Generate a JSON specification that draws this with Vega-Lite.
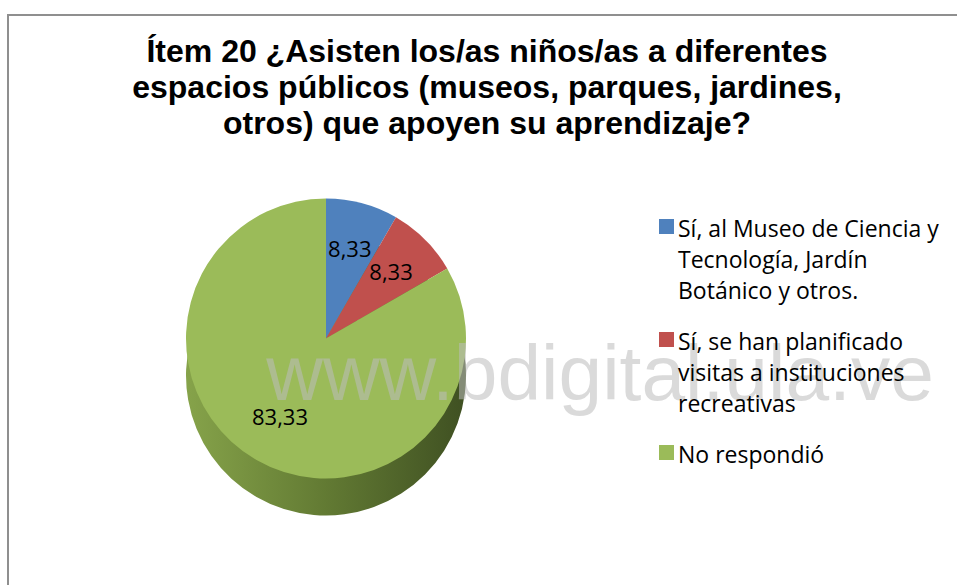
{
  "$schema": "https://vega.github.io/schema/vega-lite/v6.json",
  "width": 980,
  "height": 575,
  "autosize": {"type": "none"},
  "padding": {"left": 8, "top": 15, "right": 0, "bottom": 0},
  "background": "white",
  "config": {
    "view": {"stroke": null},
    "locale": {"number": {"decimal": ",", "thousands": ".", "grouping": [3], "currency": ["", ""]}}
  },
  "title": {
    "text": ["Ítem 20 ¿Asisten los/as niños/as a diferentes", "espacios públicos (museos, parques, jardines,", "otros) que apoyen su aprendizaje?"],
    "font": "Liberation Sans",
    "fontSize": 32,
    "fontWeight": "bold",
    "color": "#000000",
    "anchor": "middle",
    "frame": "group",
    "orient": "top",
    "lineHeight": 36,
    "offset": -127,
    "dx": -11
  },
  "data": {
    "values": [
      {"categoria": "Sí, al Museo de Ciencia y Tecnología, Jardín Botánico y otros.", "valor": 8.33, "orden": 1},
      {"categoria": "Sí, se han planificado visitas a instituciones recreativas", "valor": 8.33, "orden": 2},
      {"categoria": "No respondió", "valor": 83.33, "orden": 3}
    ]
  },
  "layer": [
    {
      "data": {"values": [{"marco": "borde"}]},
      "mark": {"type": "rect", "fill": null, "stroke": "#8f8f8f", "strokeWidth": 2},
      "encoding": {}
    },
    {
      "mark": {
        "type": "arc",
        "radius": 140,
        "xOffset": -172,
        "yOffset": 73,
        "fill": {"gradient": "linear", "x1": 0, "x2": 1, "y1": 0, "y2": 0, "stops": [{"offset": 0, "color": "#86a34a"}, {"offset": 0.5, "color": "#627a33"}, {"offset": 1, "color": "#3f5022"}]}
      },
      "encoding": {
        "theta": {"field": "valor", "type": "quantitative", "stack": true},
        "order": {"field": "orden", "type": "quantitative"}
      }
    },
    {
      "mark": {"type": "arc", "radius": 140, "xOffset": -172, "yOffset": 36},
      "encoding": {
        "theta": {"field": "valor", "type": "quantitative", "stack": true},
        "order": {"field": "orden", "type": "quantitative"},
        "color": {
          "field": "categoria",
          "type": "nominal",
          "sort": null,
          "scale": {
            "domain": ["Sí, al Museo de Ciencia y Tecnología, Jardín Botánico y otros.", "Sí, se han planificado visitas a instituciones recreativas", "No respondió"],
            "range": ["#4f81bd", "#c0504d", "#9bbb59"]
          },
          "legend": {
            "orient": "none",
            "legendX": 647,
            "legendY": 200,
            "title": null,
            "padding": 0,
            "symbolType": "square",
            "symbolSize": 225,
            "symbolStrokeWidth": 0,
            "labelFont": "Open Sans",
            "labelFontSize": 23,
            "labelColor": "#000000",
            "labelLimit": 400,
            "labelOffset": 0,
            "labelBaseline": "top",
            "rowPadding": 24,
            "labelExpr": "indexof(datum.label, 'Museo') >= 0 ? ['Sí, al Museo de Ciencia y', 'Tecnología, Jardín', 'Botánico y otros.'] : (indexof(datum.label, 'planificado') >= 0 ? ['Sí, se han planificado', 'visitas a instituciones', 'recreativas'] : datum.label)",
            "encoding": {"labels": {"lineHeight": {"value": 31}, "dy": {"value": -8}}}
          }
        }
      }
    },
    {
      "mark": {"type": "text", "radius": 92, "xOffset": -172, "yOffset": 36, "font": "Open Sans", "fontSize": 22, "color": "#000000"},
      "encoding": {
        "theta": {"field": "valor", "type": "quantitative", "stack": true},
        "order": {"field": "orden", "type": "quantitative"},
        "text": {"field": "valor", "type": "quantitative", "format": ".2f"}
      }
    },
    {
      "data": {"values": [{"marca": "www.bdigital.ula.ve"}]},
      "mark": {"type": "text", "font": "Liberation Sans", "fontSize": 78.5, "fill": "#bdbdbd", "opacity": 0.55, "dx": 102, "dy": 73, "baseline": "middle", "align": "center"},
      "encoding": {"text": {"field": "marca", "type": "nominal"}}
    }
  ]
}
